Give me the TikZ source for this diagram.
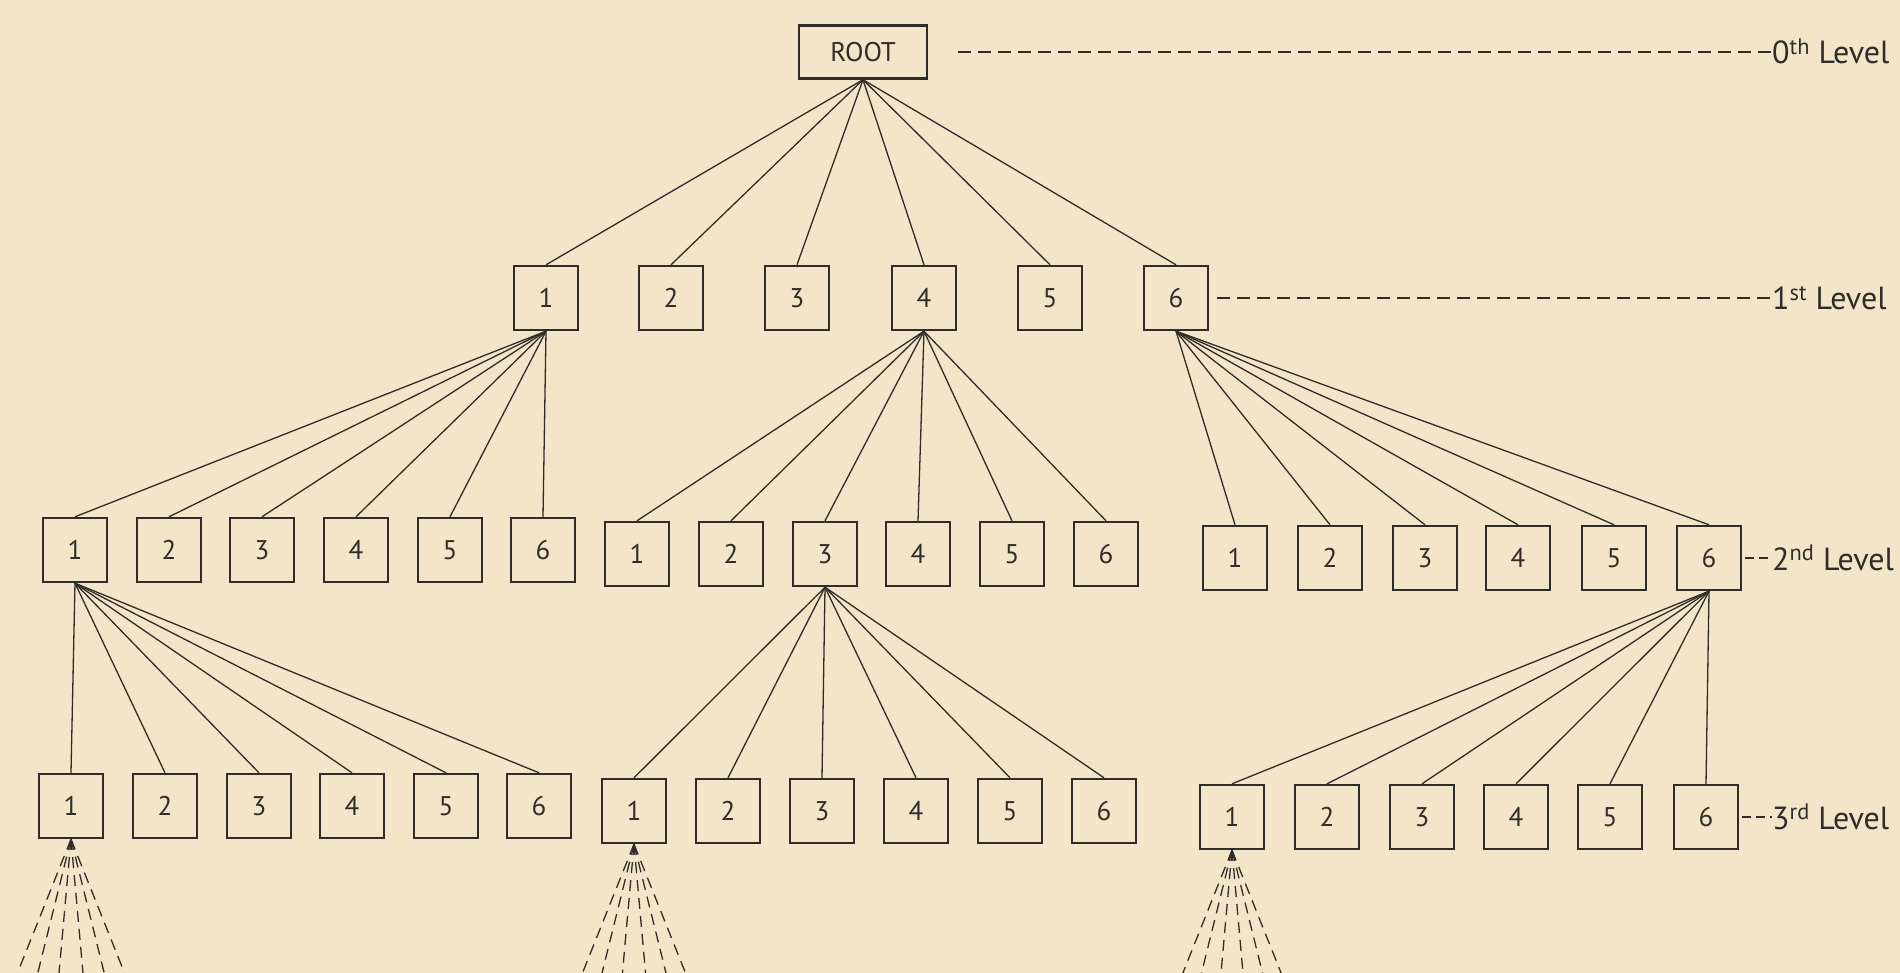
\documentclass[tikz,border=0pt]{standalone}
\usepackage{fontspec}
\setmainfont{PT Sans}
\usetikzlibrary{calc}
\definecolor{paper}{RGB}{243,229,201}
\definecolor{ink}{RGB}{48,44,40}
\begin{document}
\begin{tikzpicture}[x=1pt,y=-1pt,
  box/.style={draw=ink, line width=2.4pt, minimum width=64pt, minimum height=64pt, inner sep=0pt, font=\fontsize{27}{30}\selectfont, text=ink},
  rootbox/.style={box, minimum width=128pt, minimum height=53pt},
  link/.style={draw=ink, line width=1.3pt},
  fan/.style={draw=ink, line width=1.3pt, dash pattern=on 11pt off 7pt},
  leveldash/.style={draw=ink, line width=1.5pt, dash pattern=on 13pt off 7pt},
  shortdash/.style={draw=ink, line width=1.6pt, dash pattern=on 9pt off 5pt},
  lvl/.style={font=\fontsize{32}{36}\selectfont, text=ink, inner sep=0pt, anchor=base west}]
\fill[paper] (0,0) rectangle (1900,973);
\useasboundingbox (0,0) rectangle (1900,973);

% level 0
\node[rootbox] (root) at (863,52) {ROOT};
% level 1
\foreach \x [count=\i] in {546,671,797,924,1050,1176}
  \node[box] (f\i) at (\x,298) {\i};
% level 2
\foreach \x [count=\i] in {75,169,262,356,450,543}
  \node[box] (sa\i) at (\x,550) {\i};
\foreach \x [count=\i] in {637,731,825,918,1012,1106}
  \node[box] (sb\i) at (\x,554) {\i};
\foreach \x [count=\i] in {1235,1330,1425,1518,1614,1709}
  \node[box] (sc\i) at (\x,558) {\i};
% level 3
\foreach \x [count=\i] in {71,165,259,352,446,539}
  \node[box] (ta\i) at (\x,806) {\i};
\foreach \x [count=\i] in {634,728,822,916,1010,1104}
  \node[box] (tb\i) at (\x,811) {\i};
\foreach \x [count=\i] in {1232,1327,1422,1516,1610,1706}
  \node[box] (tc\i) at (\x,817) {\i};

% connectors
\foreach \i in {1,...,6} {
  \draw[link] (root.south) -- (f\i.north);
  \draw[link] (f1.south) -- (sa\i.north);
  \draw[link] (f4.south) -- (sb\i.north);
  \draw[link] (f6.south) -- (sc\i.north);
  \draw[link] (sa1.south) -- (ta\i.north);
  \draw[link] (sb3.south) -- (tb\i.north);
  \draw[link] (sc6.south) -- (tc\i.north);
}

% dashed fans below level 3
\foreach \n in {ta1,tb1,tc1} {
  \foreach \d [count=\k] in {-58,-36,-13,13,36,58} {
    \coordinate (\n-end\k) at ($(\n.south)+(\d,145)$);
    \draw[fan] (\n.south) -- (\n-end\k);
  }
}

% level labels
\node[lvl] (l0) at (1772,64) {0\textsuperscript{th} Level};
\draw[leveldash] ([xshift=30pt]root.east) -- (l0.west |- root.east);
\node[lvl] (l1) at (1772,310) {1\textsuperscript{st} Level};
\draw[leveldash] ([xshift=8pt]f6.east) -- (l1.west |- f6.east);
\node[lvl] (l2) at (1772,570) {2\textsuperscript{nd} Level};
\draw[shortdash] ([xshift=3pt]sc6.east) -- (l2.west |- sc6.east);
\node[lvl] (l3) at (1772,829) {3\textsuperscript{rd} Level};
\draw[shortdash] ([xshift=3pt]tc6.east) -- (l3.west |- tc6.east);
\end{tikzpicture}
\end{document}
